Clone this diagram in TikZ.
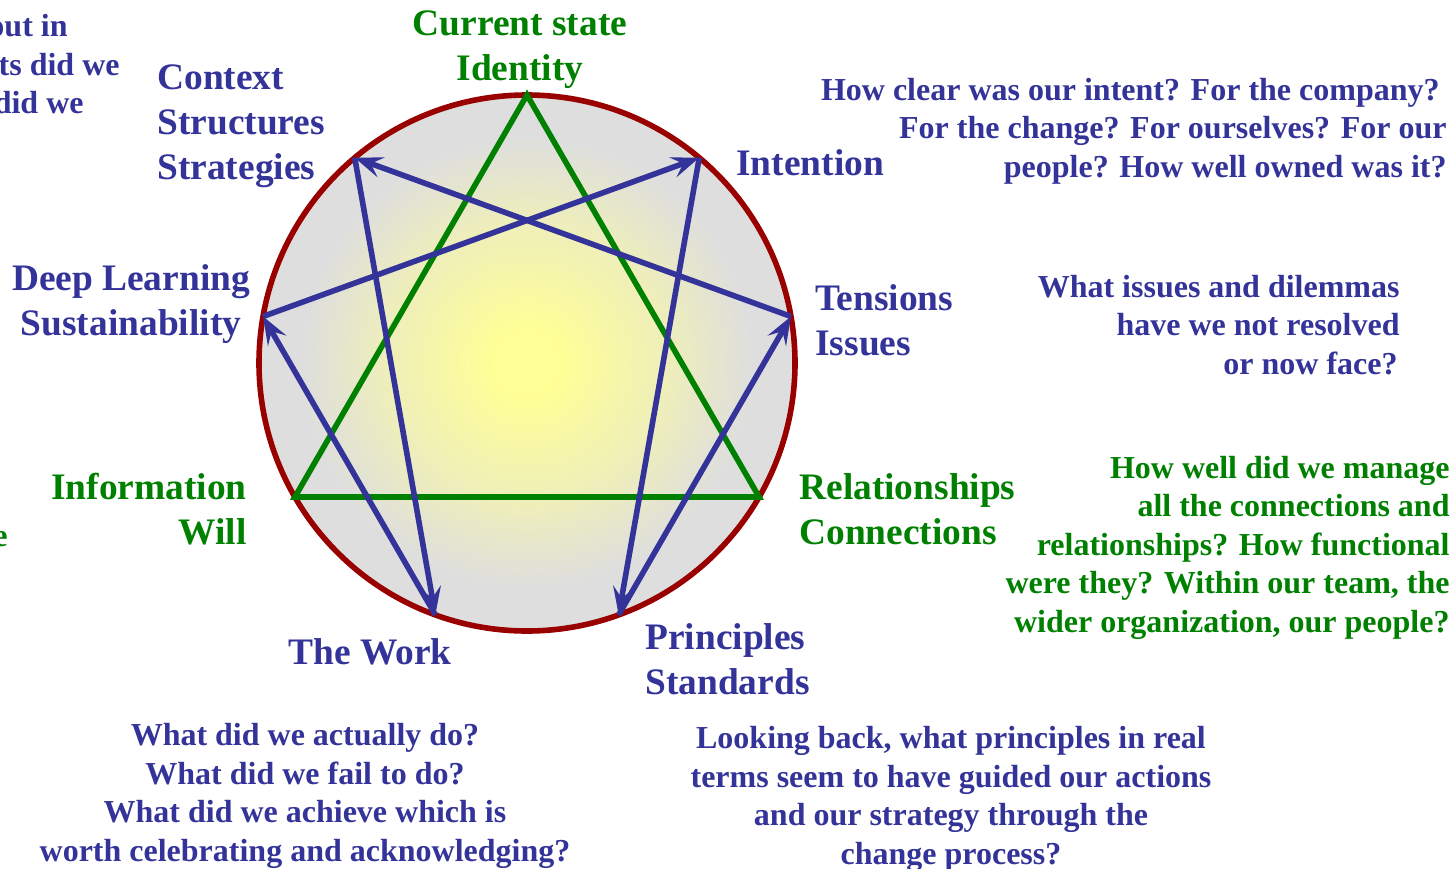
\documentclass[tikz,border=0pt]{standalone}
\usepackage{fontspec}
\setmainfont{Liberation Serif}
\usetikzlibrary{arrows.meta}
\definecolor{labelblue} {RGB}{ 51, 51,153}
\definecolor{labelgreen}{RGB}{  0,128,  0}
\definecolor{rimred}    {RGB}{153,  0,  0}
\definecolor{coreyellow}{RGB}{255,255,150}
\definecolor{rimgray}   {RGB}{222,222,222}
\pgfdeclareradialshading{enneafill}{\pgfpoint{0bp}{0bp}}{%
  color(0bp)=(coreyellow); color(3bp)=(coreyellow);
  color(13bp)=(coreyellow!50!rimgray); color(21bp)=(rimgray);
  color(25bp)=(rimgray); color(50bp)=(rimgray)}

\begin{document}
\begin{tikzpicture}[
  % one unit = one pixel of the 1456x868 layout, y grows downwards
  x=0.5pt,y=-0.5pt,
  >={Stealth[length=14pt,width=10.5pt,inset=5.5pt]},
  line join=miter,
  headblue/.style={font=\fontsize{18.7}{22.5}\selectfont\bfseries,text=labelblue,inner sep=0pt},
  headgreen/.style={headblue,text=labelgreen},
  askblue/.style={font=\fontsize{16}{19.25}\selectfont\bfseries,text=labelblue,inner sep=0pt},
  askgreen/.style={askblue,text=labelgreen},
  flowline/.style={labelblue,line width=2.8pt},
  triline/.style={labelgreen,line width=2.8pt}
]
\useasboundingbox (0,0) rectangle (1456,868);

% ---- circle body ---------------------------------------------------------
\coordinate (c) at (527,363);
\shade[shading=enneafill] (c) circle[radius=268];
\draw[rimred,line width=2.8pt] (c) circle[radius=268];

% ---- nine points on the rim (p9 at the top) ------------------------------
\foreach \k in {1,...,9}
  \coordinate (p\k) at ({527+268*cos(90-40*\k)},{363-268*sin(90-40*\k)});

% ---- inner triangle 9-3-6 ------------------------------------------------
\draw[triline] (p9) -- (p3) -- (p6) -- cycle;

% ---- hexad 1-4-2-8-5-7-1 -------------------------------------------------
\foreach \a/\b in {1/4,4/2,2/8,8/5,5/7,7/1}
  \draw[flowline,->] (p\a) -- (p\b);

% ---- point labels (base = last line) -------------------------------------
\node[headgreen,anchor=base,align=center] (identity) at (520,80) {Current state\\Identity};
\node[headblue,anchor=base west] (intention) at (736,175) {Intention};
\node[headblue,anchor=base west,align=left] (tensions) at (815,355) {Tensions\\Issues};
\node[headgreen,anchor=base west,align=left] (relations) at (799,544) {Relationships\\Connections};
\node[headblue,anchor=base west,align=left] (principles) at (645,694) {Principles\\Standards};
\node[headblue,anchor=base west] (work) at (288,664) {The Work};
\node[headgreen,anchor=base east,align=right] (information) at (247,544) {Information\\Will};
\node[headblue,anchor=base,align=center] (learning) at (131,335) {Deep Learning\\Sustainability};
\node[headblue,anchor=base west,align=left] (context) at (157,179) {Context\\Structures\\Strategies};

% ---- questions -----------------------------------------------------------
\node[askblue,anchor=base east,align=right] (askintent) at (1447,177)
  {How clear was our intent? For the company?\hspace*{3.5pt}\\
   For the change? For ourselves? For our\\
   people? How well owned was it?};
\node[askblue,anchor=base east,align=right] (asktension) at (1400,374)
  {What issues and dilemmas\\have we not resolved\hspace*{4.5pt}\\or now face?\hspace*{1pt}};
\node[askgreen,anchor=base east,align=right] (askrelation) at (1450,632)
  {How well did we manage\\all the connections and\\relationships? How functional\\
   were they? Within our team, the\\wider organization, our people?};
\node[askblue,anchor=base,align=center] (askprinciple) at (951,864)
  {Looking back, what principles in real\\terms seem to have guided our actions\\
   and our strategy through the\\change process?};
\node[askblue,anchor=base,align=center] (askwork) at (305,861)
  {What did we actually do?\\What did we fail to do?\\What did we achieve which is\\
   worth celebrating and acknowledging?};

% ---- cut-off text at the left edge ---------------------------------------
\node[askblue,anchor=base east] (cutone) at (68,36) {out in};
\node[askblue,anchor=base east] (cuttwo) at (120,75) {ts did we};
\node[askblue,anchor=base east] (cutthree) at (84,113) {did we};
\node[askgreen,anchor=base east] (cutfour) at (8,546) {e};

\end{tikzpicture}
\end{document}
